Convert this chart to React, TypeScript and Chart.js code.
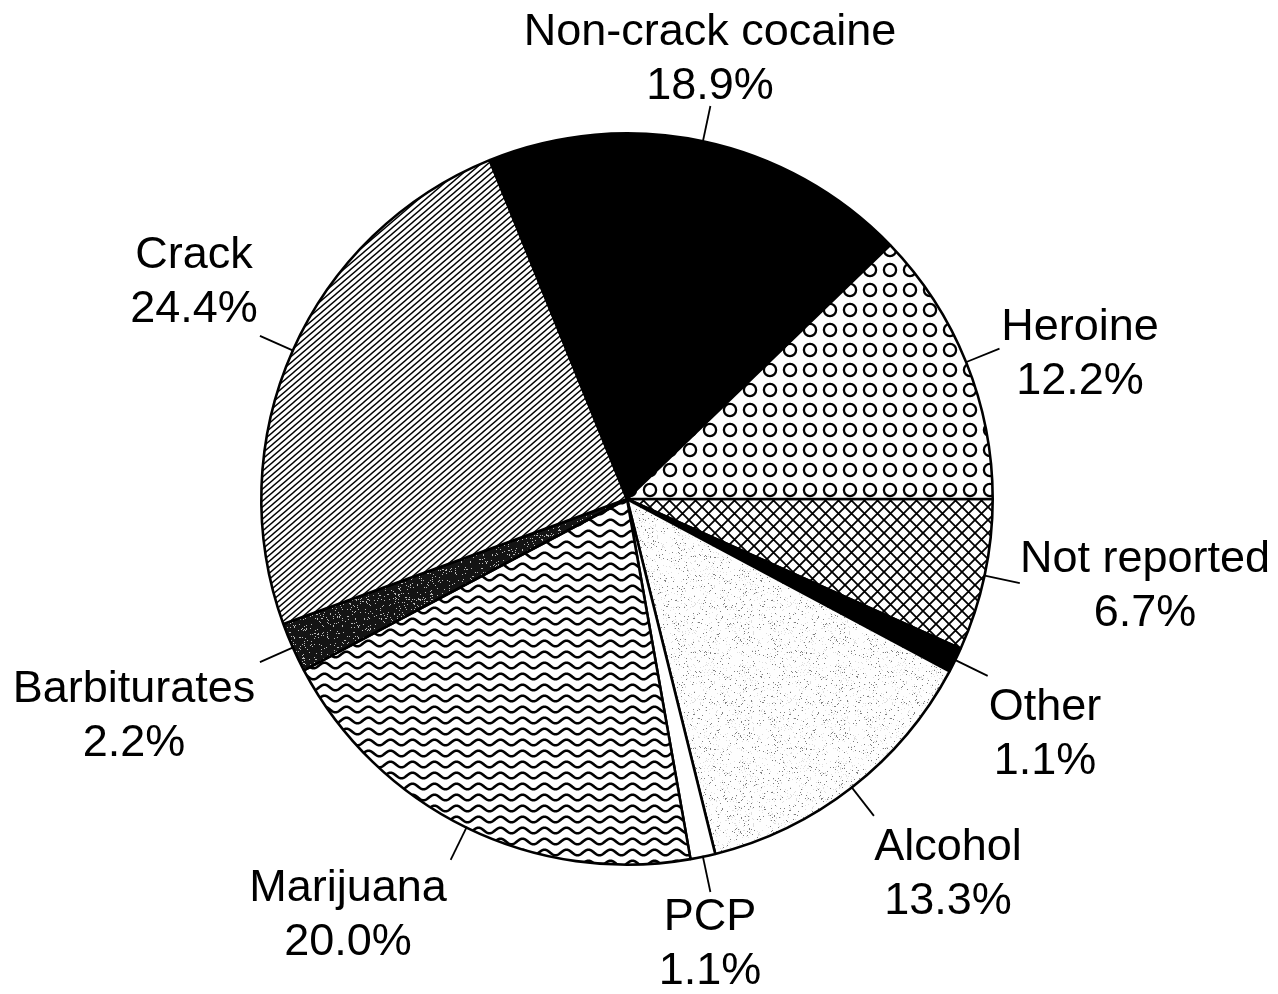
import React, { useEffect, useRef } from 'react';
import { Chart, registerables } from 'chart.js';

Chart.register(...registerables);

// ---- data ----
const categories = [
  'Not reported',
  'Other',
  'Alcohol',
  'PCP',
  'Marijuana',
  'Barbiturates',
  'Crack',
  'Non-crack cocaine',
  'Heroine',
];
const shares = [6.7, 1.1, 13.3, 1.1, 20.0, 2.2, 24.4, 18.9, 12.2];
const shareLabels = ['6.7%', '1.1%', '13.3%', '1.1%', '20.0%', '2.2%', '24.4%', '18.9%', '12.2%'];

// ---- layout (label anchors: centre x, first-line baseline y) ----
const LABEL_POS = [
  { x: 1145, y: 572 },
  { x: 1045, y: 720 },
  { x: 948, y: 860 },
  { x: 710, y: 930 },
  { x: 348, y: 901 },
  { x: 134, y: 702 },
  { x: 194, y: 268 },
  { x: 710, y: 45 },
  { x: 1080, y: 340 },
];
const LINE_GAP = 54;
const LEADER_LEN = 36;
const FONT = '45px "Liberation Sans", Arial, sans-serif';

function hash(x: number, y: number, s: number): number {
  let h = (x * 374761393 + y * 668265263 + s * 982451653) | 0;
  h = Math.imul(h ^ (h >>> 13), 1274126177);
  h = h ^ (h >>> 16);
  return ((h >>> 0) % 10000) / 10000;
}

function tile(w: number, h: number, bg: string, draw: (c: CanvasRenderingContext2D) => void): CanvasPattern {
  const cv = document.createElement('canvas');
  cv.width = w;
  cv.height = h;
  const c = cv.getContext('2d') as CanvasRenderingContext2D;
  c.fillStyle = bg;
  c.fillRect(0, 0, w, h);
  draw(c);
  return c.createPattern(cv, 'repeat') as CanvasPattern;
}

function makePatterns() {
  const hatch = tile(7, 6, '#fff', (c) => {
    c.strokeStyle = '#000';
    c.lineWidth = 1.4;
    for (let k = -12; k <= 18; k += 6) {
      c.beginPath();
      c.moveTo(-7, k + 12);
      c.lineTo(14, k - 6);
      c.stroke();
    }
  });
  const circles = tile(20, 20, '#fff', (c) => {
    c.strokeStyle = '#000';
    c.lineWidth = 2.3;
    c.beginPath();
    c.arc(10, 10, 6.1, 0, Math.PI * 2);
    c.stroke();
  });
  const cross = tile(13, 13, '#fff', (c) => {
    c.strokeStyle = '#000';
    c.lineWidth = 1.8;
    c.beginPath();
    c.moveTo(-2, -2);
    c.lineTo(15, 15);
    c.moveTo(15, -2);
    c.lineTo(-2, 15);
    c.stroke();
  });
  const waves = tile(22, 11, '#fff', (c) => {
    c.strokeStyle = '#000';
    c.lineWidth = 2.6;
    for (let r = -1; r <= 1; r++) {
      c.beginPath();
      for (let x = -2; x <= 24; x += 0.5) {
        const yy = r * 11 + 5.5 + 2.8 * Math.sin((2 * Math.PI * x) / 22);
        if (x === -2) c.moveTo(x, yy);
        else c.lineTo(x, yy);
      }
      c.stroke();
    }
  });
  const light = tile(96, 96, '#fefefe', (c) => {
    for (let y = 0; y < 96; y++) {
      for (let x = 0; x < 96; x++) {
        const v = hash(x, y, 7);
        if (v < 0.035) {
          c.fillStyle = 'rgba(0,0,0,0.5)';
          c.fillRect(x, y, 1, 1);
        } else if (v < 0.09) {
          c.fillStyle = 'rgba(0,0,0,0.12)';
          c.fillRect(x, y, 1, 1);
        }
      }
    }
  });
  const dark = tile(64, 64, '#141414', (c) => {
    for (let y = 0; y < 64; y++) {
      for (let x = 0; x < 64; x++) {
        const v = hash(x, y, 3);
        if (v < 0.08) {
          c.fillStyle = 'rgba(255,255,255,0.7)';
          c.fillRect(x, y, 1, 1);
        }
      }
    }
  });
  return [cross, '#000', light, '#fff', waves, dark, hatch, '#000', circles];
}

const labelPlugin = {
  id: 'pieLabels',
  afterDatasetsDraw(chart: any) {
    const ctx = chart.ctx as CanvasRenderingContext2D;
    const meta = chart.getDatasetMeta(0);
    ctx.save();
    meta.data.forEach((arc: any, i: number) => {
      const p = arc.getProps(['x', 'y', 'startAngle', 'endAngle', 'outerRadius'], true);
      const mid = (p.startAngle + p.endAngle) / 2;
      const cx = Math.cos(mid);
      const sy = Math.sin(mid);
      ctx.strokeStyle = '#000';
      ctx.lineWidth = 1.8;
      ctx.beginPath();
      ctx.moveTo(p.x + cx * (p.outerRadius - 1), p.y + sy * (p.outerRadius - 1));
      ctx.lineTo(p.x + cx * (p.outerRadius + LEADER_LEN), p.y + sy * (p.outerRadius + LEADER_LEN));
      ctx.stroke();
      const pos = LABEL_POS[i];
      ctx.fillStyle = '#000';
      ctx.font = FONT;
      ctx.textAlign = 'center';
      ctx.textBaseline = 'alphabetic';
      ctx.fillText(categories[i], pos.x, pos.y);
      ctx.fillText(shareLabels[i], pos.x, pos.y + LINE_GAP);
    });
    ctx.restore();
  },
};

export default function App() {
  const ref = useRef<HTMLCanvasElement | null>(null);
  useEffect(() => {
    if (!ref.current) return;
    const chart = new Chart(ref.current, {
      type: 'pie',
      data: {
        labels: categories,
        datasets: [
          {
            data: shares,
            backgroundColor: makePatterns() as any,
            borderColor: '#000',
            borderWidth: 2.6,
          },
        ],
      },
      options: {
        responsive: false,
        animation: false,
        rotation: 90,
        layout: { padding: { left: 260, right: 284, top: 132, bottom: 128 } },
        plugins: {
          legend: { display: false },
          tooltip: { enabled: false },
        },
      },
      plugins: [labelPlugin],
    });
    return () => chart.destroy();
  }, []);
  return (
    <div style={{ position: 'fixed', left: 0, top: 0, width: 1278, height: 994, background: '#fff' }}>
      <canvas ref={ref} width={1278} height={994} style={{ display: 'block', width: 1278, height: 994 }} />
    </div>
  );
}
